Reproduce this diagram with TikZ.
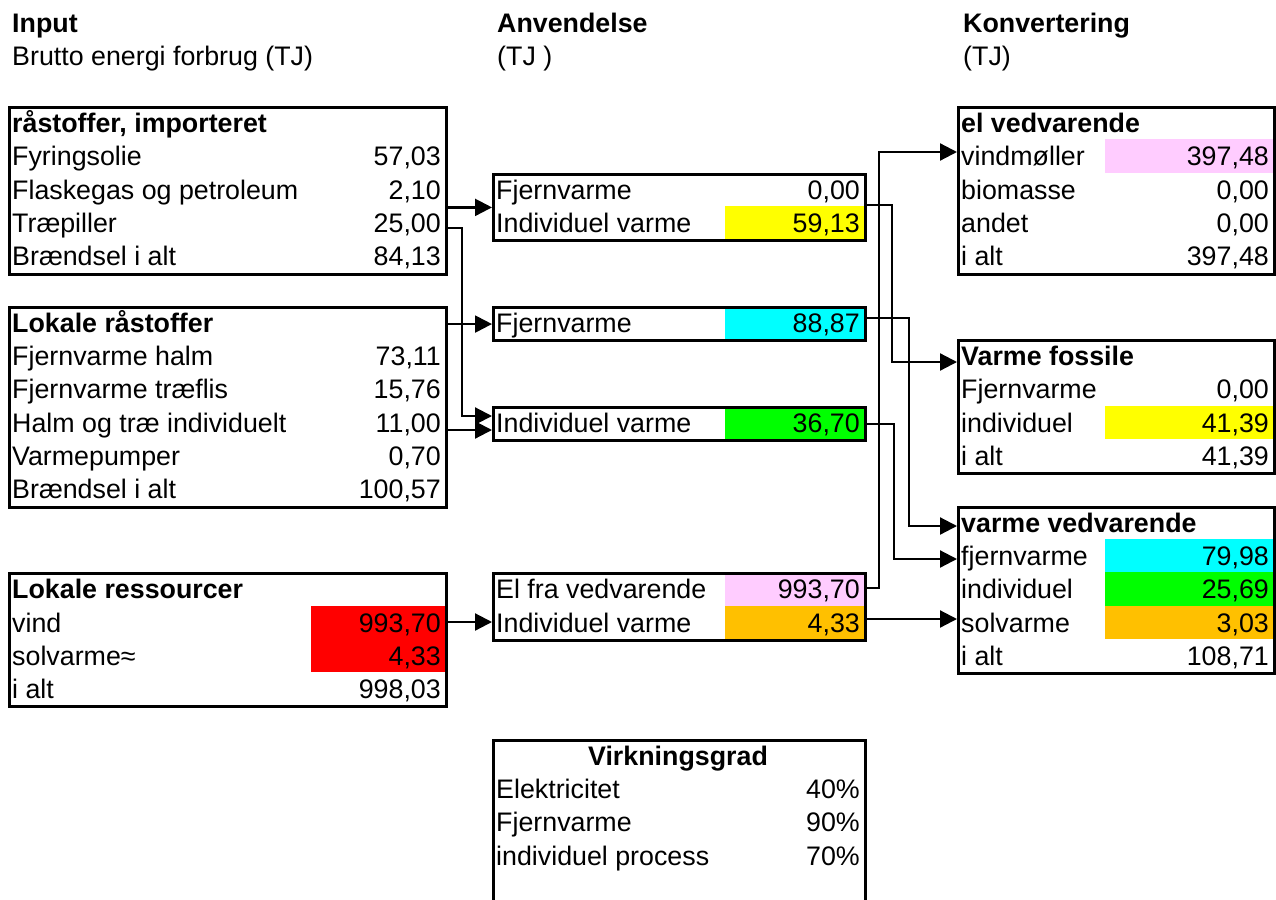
\documentclass[tikz,border=0pt]{standalone}
\usepackage{fontspec}
\setmainfont{Liberation Sans}
\usetikzlibrary{arrows.meta}
\definecolor{cpink}{HTML}{FFCCFF}
\definecolor{cyel}{HTML}{FFFF00}
\definecolor{ccyan}{HTML}{00FFFF}
\definecolor{cgreen}{HTML}{00FF00}
\definecolor{corange}{HTML}{FFC000}
\definecolor{cred}{HTML}{FF0000}
\newcommand\lbl[4]{\node[txt, anchor=base west] (#1) at (#2,{32.6+33.3*#3}) {#4};}
\newcommand\blbl[4]{\node[btxt, anchor=base west] (#1) at (#2,{32.6+33.3*#3}) {#4};}
\newcommand\val[4]{\node[txt, anchor=base east] (#1) at (#2,{32.6+33.3*#3}) {#4};}
\newcommand\cellfill[4]{\fill[#1] (#2,{6.1+33.3*#4}) rectangle (#3,{6.1+33.3*(#4+1)});}
\begin{document}
\begin{tikzpicture}[x=1pt,y=-1pt,
  txt/.style={inner sep=0pt, font=\fontsize{26.8}{32}\selectfont},
  btxt/.style={inner sep=0pt, font=\fontsize{26.8}{32}\selectfont\bfseries},
  box/.style={draw, line width=3pt, inner sep=0pt, anchor=north west},
  conn/.style={line width=2.2pt, -{Triangle[length=17pt,width=17pt]}}]
\useasboundingbox (0,0) rectangle (1276,899);

% colour fills
\cellfill{cred}{311}{445}{18}
\cellfill{cred}{311}{445}{19}
\cellfill{cyel}{725}{864}{6}
\cellfill{ccyan}{725}{864}{9}
\cellfill{cgreen}{725}{864}{12}
\cellfill{cpink}{725}{864}{17}
\cellfill{corange}{725}{864}{18}
\cellfill{cpink}{1105}{1273}{4}
\cellfill{cyel}{1105}{1273}{12}
\cellfill{ccyan}{1105}{1273}{16}
\cellfill{cgreen}{1105}{1273}{17}
\cellfill{corange}{1105}{1273}{18}

% boxes
\node[box, minimum width=437, minimum height=166.5] (b1) at (8,106) {};
\node[box, minimum width=437, minimum height=199.8] (b2) at (8,306) {};
\node[box, minimum width=437, minimum height=133.2] (b3) at (8,572.2) {};
\node[box, minimum width=372, minimum height=66.6] (m1) at (492,172.6) {};
\node[box, minimum width=372, minimum height=33.3] (m2) at (492,305.9) {};
\node[box, minimum width=372, minimum height=33.3] (m3) at (492,405.8) {};
\node[box, minimum width=372, minimum height=66.6] (m4) at (492,572.2) {};
\node[box, minimum width=372, minimum height=175] (vg) at (492,738.8) {};
\node[box, minimum width=316, minimum height=166.5] (r1) at (957,106) {};
\node[box, minimum width=316, minimum height=133.2] (r2) at (957,339.2) {};
\node[box, minimum width=316, minimum height=166.5] (r3) at (957,505.6) {};

% headers
\blbl{h1}{12}{0}{Input}
\lbl{h1b}{12}{1}{Brutto energi forbrug (TJ)}
\blbl{h2}{497}{0}{Anvendelse}
\lbl{h2b}{497}{1}{(TJ )}
\blbl{h3}{963}{0}{Konvertering}
\lbl{h3b}{963}{1}{(TJ)}

% box 1
\blbl{b1t}{12}{3}{råstoffer, importeret}
\lbl{b1a}{12}{4}{Fyringsolie}\val{b1av}{441}{4}{57,03}
\lbl{b1b}{12}{5}{Flaskegas og petroleum}\val{b1bv}{441}{5}{2,10}
\lbl{b1c}{12}{6}{Træpiller}\val{b1cv}{441}{6}{25,00}
\lbl{b1d}{12}{7}{Brændsel i alt}\val{b1dv}{441}{7}{84,13}

% box 2
\blbl{b2t}{12}{9}{Lokale råstoffer}
\lbl{b2a}{12}{10}{Fjernvarme halm}\val{b2av}{441}{10}{73,11}
\lbl{b2b}{12}{11}{Fjernvarme træflis}\val{b2bv}{441}{11}{15,76}
\lbl{b2c}{12}{12}{Halm og træ individuelt}\val{b2cv}{441}{12}{11,00}
\lbl{b2d}{12}{13}{Varmepumper}\val{b2dv}{441}{13}{0,70}
\lbl{b2e}{12}{14}{Brændsel i alt}\val{b2ev}{441}{14}{100,57}

% box 3
\blbl{b3t}{12}{17}{Lokale ressourcer}
\lbl{b3a}{12}{18}{vind}\val{b3av}{441}{18}{993,70}
\lbl{b3b}{12}{19}{solvarme≈}\val{b3bv}{441}{19}{4,33}
\lbl{b3c}{12}{20}{i alt}\val{b3cv}{441}{20}{998,03}

% middle boxes
\lbl{m1a}{496}{5}{Fjernvarme}\val{m1av}{860}{5}{0,00}
\lbl{m1b}{496}{6}{Individuel varme}\val{m1bv}{860}{6}{59,13}
\lbl{m2a}{496}{9}{Fjernvarme}\val{m2av}{860}{9}{88,87}
\lbl{m3a}{496}{12}{Individuel varme}\val{m3av}{860}{12}{36,70}
\lbl{m4a}{496}{17}{El fra vedvarende}\val{m4av}{860}{17}{993,70}
\lbl{m4b}{496}{18}{Individuel varme}\val{m4bv}{860}{18}{4,33}

% Virkningsgrad
\node[btxt, anchor=base] (vgt) at (678,{32.6+33.3*22}) {Virkningsgrad};
\lbl{vga}{496}{23}{Elektricitet}\val{vgav}{860}{23}{40\%}
\lbl{vgb}{496}{24}{Fjernvarme}\val{vgbv}{860}{24}{90\%}
\lbl{vgc}{496}{25}{individuel process}\val{vgcv}{860}{25}{70\%}

% right boxes
\blbl{r1t}{961}{3}{el vedvarende}
\lbl{r1a}{961}{4}{vindmøller}\val{r1av}{1269}{4}{397,48}
\lbl{r1b}{961}{5}{biomasse}\val{r1bv}{1269}{5}{0,00}
\lbl{r1c}{961}{6}{andet}\val{r1cv}{1269}{6}{0,00}
\lbl{r1d}{961}{7}{i alt}\val{r1dv}{1269}{7}{397,48}

\blbl{r2t}{961}{10}{Varme fossile}
\lbl{r2a}{961}{11}{Fjernvarme}\val{r2av}{1269}{11}{0,00}
\lbl{r2b}{961}{12}{individuel}\val{r2bv}{1269}{12}{41,39}
\lbl{r2c}{961}{13}{i alt}\val{r2cv}{1269}{13}{41,39}

\blbl{r3t}{961}{15}{varme vedvarende}
\lbl{r3a}{961}{16}{fjernvarme}\val{r3av}{1269}{16}{79,98}
\lbl{r3b}{961}{17}{individuel}\val{r3bv}{1269}{17}{25,69}
\lbl{r3c}{961}{18}{solvarme}\val{r3cv}{1269}{18}{3,03}
\lbl{r3d}{961}{19}{i alt}\val{r3dv}{1269}{19}{108,71}

% connectors left -> middle
\draw[conn] (b1.east |- m1.west) -- (m1.west);
\draw[conn] (b1.east |- 0,228) -| (462,416) -- (m3.west |- 0,416);
\draw[conn] (b2.east |- m2.west) -- (m2.west);
\draw[conn] (b2.east |- 0,430) -- (m3.west |- 0,430);
\draw[conn] (b3.east |- 0,622) -- (m4.west |- 0,622);

% connectors middle -> right
\draw[conn] (m1.east |- 0,205) -| (892,362) -- (r2.west |- 0,362);
\draw[conn] (m2.east |- 0,318) -| (909,526) -- (r3.west |- 0,526);
\draw[conn] (m3.east |- 0,424) -| (894,559) -- (r3.west |- 0,559);
\draw[conn] (m4.east |- 0,588) -| (879,152) -- (r1.west |- 0,152);
\draw[conn] (m4.east |- 0,619) -- (r3.west |- 0,619);
\end{tikzpicture}
\end{document}
